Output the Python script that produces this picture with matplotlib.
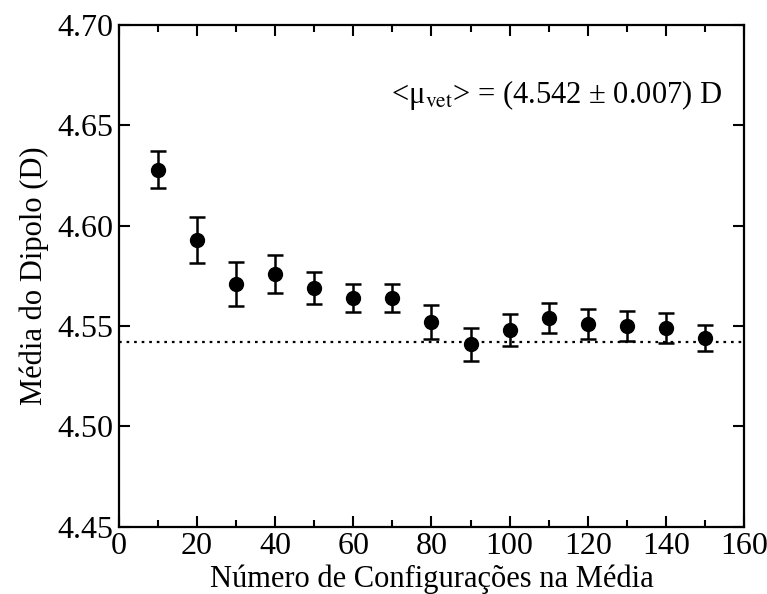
import matplotlib
matplotlib.use("Agg")
import matplotlib.pyplot as plt
from matplotlib.ticker import MultipleLocator, FormatStrFormatter

# Data
n_configs = [10, 20, 30, 40, 50, 60, 70, 80, 90, 100, 110, 120, 130, 140, 150]
dipole_mean = [4.628, 4.593, 4.571, 4.576, 4.569, 4.564, 4.564, 4.552, 4.541,
               4.548, 4.554, 4.551, 4.550, 4.549, 4.544]
dipole_err = [0.0093, 0.0115, 0.011, 0.0095, 0.0078, 0.007, 0.007, 0.0083, 0.0083,
              0.008, 0.0076, 0.0075, 0.0075, 0.0075, 0.0066]
mean_value = 4.542
annotation = r"<μ$_{\mathrm{vet}}$> = (4.542 ± 0.007) D"
xlabel = "Número de Configurações na Média"
ylabel = "Média do Dipolo (D)"

plt.rcParams['font.family'] = ['Liberation Serif', 'DejaVu Serif']
plt.rcParams['mathtext.fontset'] = 'stix'

fig = plt.figure(figsize=(7.67, 5.94), dpi=100)
ax = fig.add_axes([0.155, 0.113, 0.815, 0.845])

ax.axhline(mean_value, color='black', lw=1.6, ls=(0, (1.2, 2.2)))
ax.errorbar(n_configs, dipole_mean, yerr=dipole_err, fmt='o', color='black',
            ms=10, elinewidth=1.8, capsize=5.5, capthick=1.8)

ax.set_xlim(0, 160)
ax.set_ylim(4.45, 4.70)
ax.xaxis.set_major_locator(MultipleLocator(20))
ax.xaxis.set_minor_locator(MultipleLocator(10))
ax.yaxis.set_major_locator(MultipleLocator(0.05))
ax.yaxis.set_major_formatter(FormatStrFormatter('%.2f'))

ax.tick_params(which='both', direction='in', top=True, right=True, width=1.5)
ax.tick_params(which='major', length=8, labelsize=23, pad=4)
ax.tick_params(which='minor', length=5)
for s in ax.spines.values():
    s.set_linewidth(1.6)

ax.set_xlabel(xlabel, fontsize=22, labelpad=2)
ax.set_ylabel(ylabel, fontsize=22, labelpad=6)

ax.text(0.965, 0.86, annotation, transform=ax.transAxes, ha='right', va='center',
        fontsize=22)

fig.savefig("out.png", dpi=100)
